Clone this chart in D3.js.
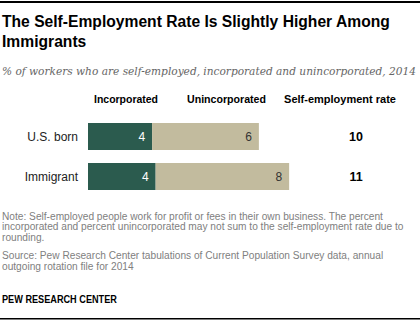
<!DOCTYPE html>
<html><head><meta charset="utf-8">
<script src="https://cdn.jsdelivr.net/npm/d3@7"></script>
<style>body{margin:0;background:#fff}svg{display:block}</style>
</head><body><div id="chart"></div>
<script>
const categories = ["U.S. born", "Immigrant"];
const incorporated = [3.6, 3.8];
const unincorporated = [6.0, 7.5];
const incorporatedLabels = ["4", "4"];
const unincorporatedLabels = ["6", "8"];
const rateLabels = ["10", "11"];
const headers = ["Incorporated", "Unincorporated", "Self-employment rate"];

const W = 420, H = 323;
const svg = d3.select("#chart").append("svg").attr("width", W).attr("height", H);
const SANS = "'Liberation Sans', Arial, sans-serif";

function fit(t, w) {
  const len = t.node().getComputedTextLength();
  const fs = parseFloat(t.attr("font-size"));
  t.attr("font-size", (fs * w / len).toFixed(2));
  return t;
}
// horizontally condensed text line
function squeezeLine(x0, y0, txt, fs, weight, fill, target, sxFixed) {
  const el = svg.append("text").attr("x", 0).attr("y", 0).attr("font-family", SANS)
    .attr("font-size", fs).attr("font-weight", weight).attr("fill", fill).text(txt);
  const sx = sxFixed || target / el.node().getComputedTextLength();
  el.attr("transform", `translate(${x0},${y0}) scale(${sx.toFixed(4)},1)`);
  return sx;
}

svg.append("rect").attr("x", 0).attr("y", 1).attr("width", W).attr("height", 2).attr("fill", "#000");
svg.append("rect").attr("x", 0).attr("y", 318).attr("width", W).attr("height", 1.5).attr("fill", "#000");

const tsx = squeezeLine(2, 27, "The Self-Employment Rate Is Slightly Higher Among", 17, "bold", "#000", 388, null);
squeezeLine(2, 47, "Immigrants", 17, "bold", "#000", null, tsx);

fit(svg.append("text").attr("x", 2).attr("y", 75).attr("font-family", "'DejaVu Serif', Georgia, serif").attr("font-style", "italic")
  .attr("font-size", 12).attr("fill", "#666").text("% of workers who are self-employed, incorporated and unincorporated, 2014"), 414);

const x = d3.scaleLinear().domain([0, 10]).range([88, 266]);
const y = d3.scaleBand().domain(categories).range([123, 190]).paddingInner(0.325).paddingOuter(0);

const headerX = [126, 226.5, 340];
const headerW = [64, 79, 112];
headers.forEach((h, i) => {
  fit(svg.append("text").attr("x", headerX[i]).attr("y", 103).attr("text-anchor", "middle")
    .attr("font-family", SANS).attr("font-weight", "bold").attr("font-size", 11).attr("fill", "#000").text(h), headerW[i]);
});

const rows = categories.map((c, i) => ({c, inc: incorporated[i], un: unincorporated[i],
  incL: incorporatedLabels[i], unL: unincorporatedLabels[i], rate: rateLabels[i]}));

const g = svg.append("g");
g.selectAll("rect.inc").data(rows).join("rect").attr("class", "inc")
  .attr("x", x(0)).attr("y", d => y(d.c)).attr("width", d => x(d.inc) - x(0)).attr("height", y.bandwidth())
  .attr("fill", "#2b5b4e");
g.selectAll("rect.un").data(rows).join("rect").attr("class", "un")
  .attr("x", d => x(d.inc)).attr("y", d => y(d.c)).attr("width", d => x(d.inc + d.un) - x(d.inc)).attr("height", y.bandwidth())
  .attr("fill", "#c2bb9e");

g.selectAll("text.cat").data(rows).join("text").attr("class", "cat")
  .attr("x", 78).attr("y", d => y(d.c) + y.bandwidth() / 2).attr("dy", "0.35em").attr("text-anchor", "end")
  .attr("font-family", SANS).attr("font-size", 12).attr("fill", "#222").text(d => d.c);

g.selectAll("text.incl").data(rows).join("text").attr("class", "incl")
  .attr("x", d => x(d.inc) - 7).attr("y", d => y(d.c) + y.bandwidth() / 2).attr("dy", "0.35em").attr("text-anchor", "end")
  .attr("font-family", SANS).attr("font-size", 12).attr("fill", "#fff").text(d => d.incL);
g.selectAll("text.unl").data(rows).join("text").attr("class", "unl")
  .attr("x", d => x(d.inc + d.un) - 7).attr("y", d => y(d.c) + y.bandwidth() / 2).attr("dy", "0.35em").attr("text-anchor", "end")
  .attr("font-family", SANS).attr("font-size", 12).attr("fill", "#333").text(d => d.unL);
g.selectAll("text.rate").data(rows).join("text").attr("class", "rate")
  .attr("x", 356).attr("y", d => y(d.c) + y.bandwidth() / 2).attr("dy", "0.35em").attr("text-anchor", "middle")
  .attr("font-family", SANS).attr("font-weight", "bold").attr("font-size", 12.5).attr("fill", "#000").text(d => d.rate);

const notes = [
  ["Note: Self-employed people work for profit or fees in their own business. The percent", 220, 381],
  ["incorporated and percent unincorporated may not sum to the self-employment rate due to", 230.3, 404],
  ["rounding.", 240.6, null],
  ["Source: Pew Research Center tabulations of Current Population Survey data, annual", 259.3, 381],
  ["outgoing rotation file for 2014", 269.6, null]
];
let sxNote = null;
notes.forEach(([t, yy, w]) => {
  const s = squeezeLine(2, yy, t, 10, "normal", "#808080", w, sxNote);
  if (!sxNote) sxNote = s;
});
squeezeLine(2, 302.5, "PEW RESEARCH CENTER", 10.5, "bold", "#000", 115, null);
</script></body></html>
